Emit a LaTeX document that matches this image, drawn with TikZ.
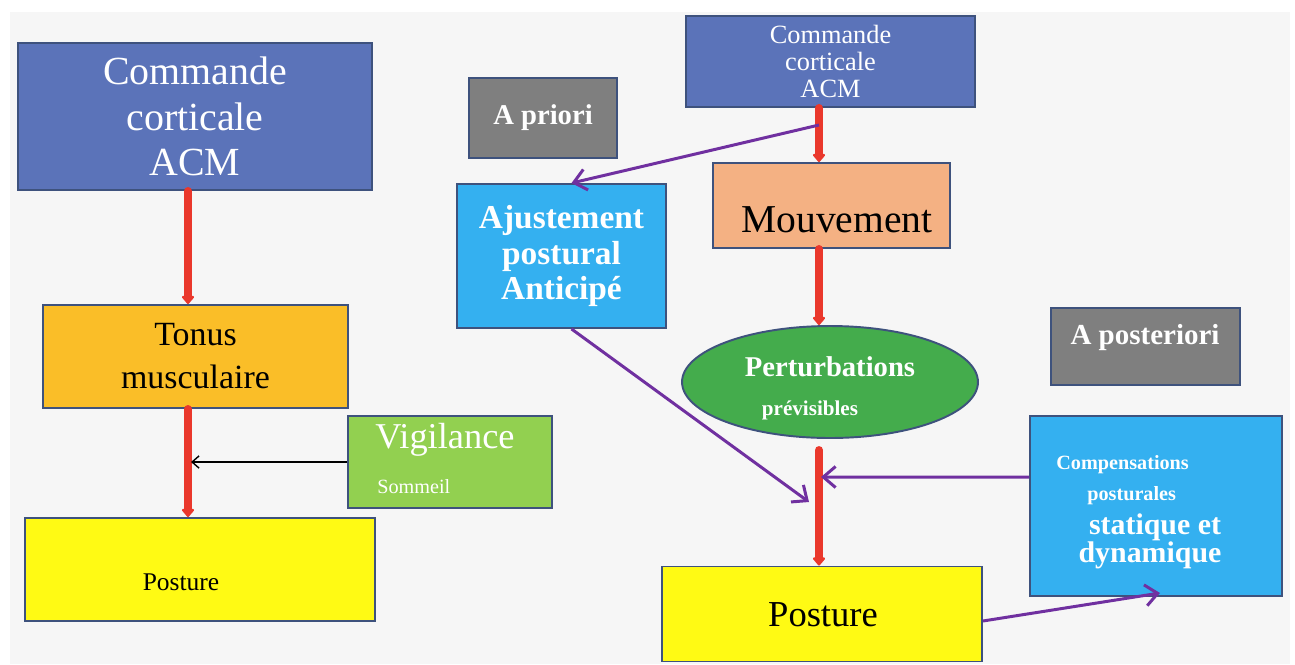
\documentclass[tikz,border=0pt]{standalone}
\usepackage{fontspec}
\setmainfont{Liberation Serif}
\usetikzlibrary{arrows.meta,shapes.geometric}
\definecolor{cblue}{RGB}{91,115,185}
\definecolor{cborder}{RGB}{62,82,125}
\definecolor{corange}{RGB}{250,190,40}
\definecolor{cgreenl}{RGB}{146,208,80}
\definecolor{cyellow}{RGB}{255,250,20}
\definecolor{cgray}{RGB}{127,127,127}
\definecolor{cpeach}{RGB}{244,177,131}
\definecolor{clblue}{RGB}{52,176,240}
\definecolor{cgreen}{RGB}{68,172,76}
\definecolor{cred}{RGB}{234,56,44}
\definecolor{cpurple}{RGB}{112,48,160}
\definecolor{cbg}{RGB}{246,246,246}
\newcommand{\fs}[2]{\fontsize{#1}{#2}\selectfont}
\begin{document}
\begin{tikzpicture}[x=0.02cm,y=-0.02cm,
  box/.style={draw=cborder,line width=1.1pt,rectangle,inner sep=0pt,align=center},
  redarrow/.style={draw=cred,line width=4.5pt,line cap=round,-{Triangle[length=5pt,width=8pt,round]}},
  purplearrow/.style={draw=cpurple,line width=1.7pt,-{Straight Barb[length=7pt,width=12pt]}},
  wtext/.style={text=white,inner sep=0pt,align=center},
  btext/.style={text=black,inner sep=0pt,align=center}]
\useasboundingbox (0,0) rectangle (1295,664);
\fill[white] (0,0) rectangle (1295,664);
\fill[cbg] (10,12) rectangle (1290,664);

% ---- left column ----
\node[box,fill=cblue,minimum width=7.08cm,minimum height=2.94cm,text=white,font=\fs{22.7}{26}] (cmdL) at (195,116.5) {Commande\\corticale\\ACM};
\node[box,fill=corange,minimum width=6.1cm,minimum height=2.06cm,font=\fs{19.3}{24.5}] (tonus) at (195.5,356.5) {Tonus\\musculaire};
\node[box,fill=cgreenl,minimum width=4.08cm,minimum height=1.84cm] (vig) at (450,462) {};
\node[wtext,font=\fs{20.7}{24},anchor=west] (vigt) at (375,440) {Vigilance};
\node[wtext,font=\fs{11.5}{13},anchor=west] (somt) at (377,487) {Sommeil};
\node[box,fill=cyellow,minimum width=7.0cm,minimum height=2.06cm] (postL) at (200,569.5) {};
\node[btext,font=\fs{14.5}{17}] (postLt) at (181,582) {Posture};

\draw[redarrow] (cmdL.south -| 188,0) -- (tonus.north -| 188,0);
\draw[redarrow] (tonus.south -| 188,0) -- (postL.north -| 188,0);
\coordinate (vtip) at (191,462);
\draw[line width=0.8pt,-{Straight Barb[length=4pt,width=7pt]}] (vig.west) -- (vtip);

% ---- right part ----
\node[box,fill=cgray,minimum width=2.96cm,minimum height=1.6cm,text=white,font=\bfseries\fs{16.3}{19}] (apriori) at (543,118) {A priori};
\node[box,fill=cblue,minimum width=5.78cm,minimum height=1.82cm,text=white,font=\fs{15}{15.2}] (cmdR) at (830.5,61.5) {Commande\\corticale\\ACM};
\node[box,fill=cpeach,minimum width=4.74cm,minimum height=1.7cm] (mouv) at (831.5,205.5) {};
\node[btext,font=\fs{22.5}{26}] (mouvt) at (837,220) {Mouvement};
\node[box,fill=clblue,minimum width=4.18cm,minimum height=2.88cm,text=white,font=\bfseries\fs{19}{20.2}] (ajust) at (561.5,256) {Ajustement\\postural\\Anticip\'e};
\node[box,ellipse,fill=cgreen,minimum width=5.92cm,minimum height=2.24cm] (pert) at (830,382) {};
\node[wtext,font=\bfseries\fs{16.3}{19}] (pertt) at (830,367) {Perturbations};
\node[wtext,font=\bfseries\fs{12}{14}] (prevt) at (810,410) {pr\'evisibles};
\node[box,fill=cgray,minimum width=3.78cm,minimum height=1.54cm] (apost) at (1145.5,346.5) {};
\node[wtext,font=\bfseries\fs{16.5}{19}] (apostt) at (1145,338) {A posteriori};
\node[box,fill=clblue,minimum width=5.04cm,minimum height=3.6cm] (comp) at (1156,506) {};
\node[wtext,font=\bfseries\fs{11.5}{13},anchor=west] (compt) at (1056,465) {Compensations};
\node[wtext,font=\bfseries\fs{11.5}{13},anchor=west] (postut) at (1087,496) {posturales};
\node[wtext,font=\bfseries\fs{17}{18}] (statt) at (1155,527) {statique et};
\node[wtext,font=\bfseries\fs{17}{18}] (dynt) at (1150,555) {dynamique};
\node[box,fill=cyellow,minimum width=6.4cm,minimum height=1.9cm] (postR) at (822,614) {};
\node[btext,font=\fs{20.8}{24}] (postRt) at (823,615) {Posture};

\draw[redarrow] ([xshift=-0.23cm]cmdR.south) -- ([xshift=-0.25cm]mouv.north);
\draw[redarrow] ([xshift=-0.25cm]mouv.south) -- ([xshift=-0.22cm]pert.north);
\coordinate (r3) at (819,450);
\draw[redarrow] (r3) -- ([xshift=-0.06cm]postR.north);

\coordinate (c1) at (819,125);
\draw[purplearrow] (c1) -- ([xshift=0.2cm]ajust.north);
\coordinate (t2) at (809,502);
\draw[purplearrow] ([xshift=0.2cm]ajust.south) -- (t2);
\coordinate (t3) at (821,477);
\draw[purplearrow] ([yshift=0.58cm]comp.west) -- (t3);
\coordinate (t4) at (1160,593);
\draw[purplearrow] ([yshift=-0.14cm]postR.east) -- (t4);
\end{tikzpicture}
\end{document}
